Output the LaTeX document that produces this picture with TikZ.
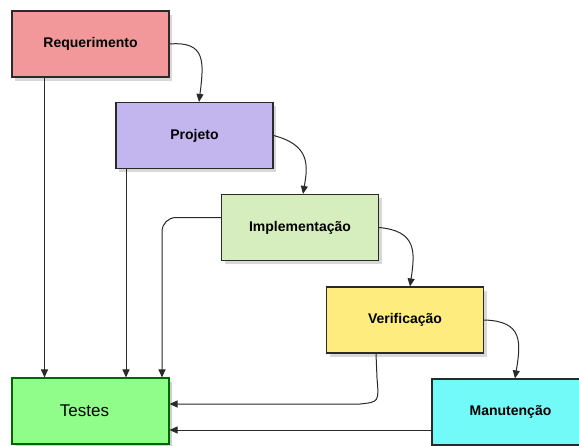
\documentclass[tikz,border=0pt]{standalone}
\usepackage{fontspec}
\setmainfont{Liberation Sans}
\usetikzlibrary{arrows.meta,shadows}
\definecolor{creq}{HTML}{F2989B}
\definecolor{cproj}{HTML}{C3B5EE}
\definecolor{cimpl}{HTML}{D6EDBD}
\definecolor{cver}{HTML}{FEED7E}
\definecolor{cman}{HTML}{72FAF8}
\definecolor{ctest}{HTML}{90FC8A}
\definecolor{cline}{HTML}{2A2A2A}
\begin{document}
\begin{tikzpicture}[x=1pt,y=-1pt,
  phase/.style={draw=cline, line width=1.1pt, minimum width=157pt, minimum height=66pt,
    inner sep=0pt, font=\fontsize{14}{16}\selectfont\bfseries,
    drop shadow={opacity=0.3, shadow xshift=3pt, shadow yshift=-3.5pt}},
  arr/.style={draw=cline, line width=1pt, -{Triangle[length=8pt,width=7pt]}}]
\clip (0,0) rectangle (579,445);
\fill[white] (0,0) rectangle (579,445);

\node[phase, fill=creq] (req) at (90.5,44) {Requerimento};
\node[phase, fill=cproj] (proj) at (194.5,135.5) {Projeto};
\node[phase, fill=cimpl] (impl) at (300,227.5) {Implementação};
\node[phase, fill=cver] (ver) at (405,320) {Verificação};
\node[phase, fill=cman] (man) at (510.5,412) {Manutenção};
\node[phase, fill=ctest, draw=green!40!black, drop shadow={opacity=0.1}, font=\fontsize{17}{20}\selectfont] (test) at (90.5,411) {Testes\hspace*{12pt}};

% cascade arrows
\draw[arr] (req.east) .. controls (206,41) and (204,62) .. ([xshift=4.5pt]proj.north);
\draw[arr] (proj.east) .. controls (310,145) and (308,165) .. ([xshift=3pt]impl.north);
\draw[arr] (impl.east) .. controls (417,231) and (415,252) .. ([xshift=5pt]ver.north);
\draw[arr] (ver.east) .. controls (523,321) and (521,342) .. ([xshift=4.5pt]man.north);

% arrows into Testes
\draw[arr] ([xshift=-46pt]req.south) -- ([xshift=-46pt]test.north);
\draw[arr] ([xshift=-68.5pt]proj.south) -- ([xshift=-68.5pt]proj.south |- test.north);
\draw[arr, rounded corners=14pt] ([yshift=10pt]impl.west) -| ([xshift=71.5pt]test.north);
\draw[arr] ([xshift=-29pt]ver.south) -- (377,378) .. controls (379,402) .. (360,404) -- (test.east |- 0,404);
\draw[arr] ([yshift=-18pt]man.west) -- (test.east |- 0,430);
\end{tikzpicture}
\end{document}
